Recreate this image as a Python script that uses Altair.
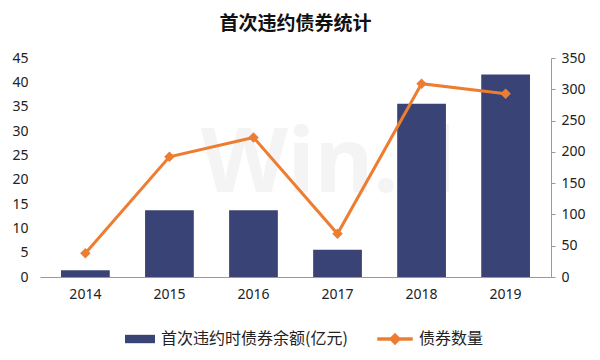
import altair as alt
import pandas as pd

years = ["2014", "2015", "2016", "2017", "2018", "2019"]
amount = [1.4, 13.7, 13.7, 5.6, 35.6, 41.6]
count = [38, 192, 223, 69, 309, 293]

bar_name = "首次违约时债券余额(亿元)"
line_name = "债券数量"

df = pd.DataFrame({"year": years, "amount": amount, "count": count,
                   "bar": bar_name, "line": line_name})

NAVY = "#3A4375"
ORANGE = "#ED7D31"
FONT = "Noto Sans"
CJK = "Noto Sans CJK SC"

x = alt.X("year:N", title=None, sort=years,
          scale=alt.Scale(paddingInner=0.42, paddingOuter=0.25),
          axis=alt.Axis(labelAngle=0, ticks=False, domainColor="#999999",
                        labelFontSize=14, labelFont=FONT, labelColor="#222222",
                        labelPadding=10))

bars = alt.Chart(df).mark_bar(color=NAVY).encode(
    x=x,
    y=alt.Y("amount:Q", title=None,
            scale=alt.Scale(domain=[0, 45], nice=False),
            axis=alt.Axis(values=list(range(0, 46, 5)), domain=False, ticks=False,
                          grid=False, labelFontSize=14, labelFont=FONT,
                          labelColor="#222222", labelPadding=12)),
    fill=alt.Fill("bar:N", scale=alt.Scale(range=[NAVY]),
                  legend=alt.Legend(title=None, orient="none", legendX=85, legendY=266,
                                    symbolType="M-1,-0.28L1,-0.28L1,0.28L-1,0.28Z",
                                    symbolSize=900, symbolStrokeWidth=0,
                                    labelFontSize=16, labelFont=CJK, labelLimit=400,
                                    labelColor="#222222", labelOffset=6)),
)

ycount = alt.Y("count:Q", title=None,
               scale=alt.Scale(domain=[0, 350], nice=False),
               axis=alt.Axis(orient="right", values=list(range(0, 351, 50)),
                             domain=True, domainColor="#999999", ticks=True,
                             tickColor="#999999", tickSize=4, grid=False,
                             labelFontSize=14, labelFont=FONT, labelColor="#222222",
                             labelPadding=6))

line = alt.Chart(df).mark_line(strokeWidth=3).encode(
    x=x,
    y=ycount,
    stroke=alt.Stroke("line:N", scale=alt.Scale(range=[ORANGE]),
                      legend=alt.Legend(title=None, orient="none", legendX=337, legendY=263,
                                        symbolType="M-1,-0.08L1,-0.08L1,0.08L-1,0.08Z M0,-0.34L0.34,0L0,0.34L-0.34,0Z",
                                        symbolSize=1225, symbolFillColor=ORANGE,
                                        symbolStrokeWidth=0.5, labelLimit=300,
                                        labelFontSize=16, labelFont=CJK,
                                        labelColor="#222222", labelOffset=6)),
)

points = alt.Chart(df).mark_point(shape="diamond", filled=True, size=110,
                                  color=ORANGE, opacity=1).encode(
    x=x,
    y=ycount,
)

watermark = alt.Chart(pd.DataFrame({"t": ["Win.d"]})).mark_text(
    fontSize=90, fontWeight="bold", font=FONT, color="#f4f4f4", align="center",
    baseline="middle").encode(x=alt.value(288), y=alt.value(107), text="t:N")

right = alt.layer(line, points).resolve_scale(y="shared")

chart = alt.layer(watermark, bars, right).resolve_scale(
    y="independent", fill="independent", stroke="independent"
).properties(
    width=511, height=219,
    title=alt.TitleParams("首次违约债券统计", font=CJK, fontSize=19,
                          fontWeight="bold", color="#111111", offset=17),
    autosize=alt.AutoSizeParams(type="none"),
    padding={"left": 32, "top": 50, "right": 40, "bottom": 80},
).configure_view(stroke=None).configure_axis(grid=False)

chart.save("out.html", embed_options={"renderer": "svg", "actions": False})
